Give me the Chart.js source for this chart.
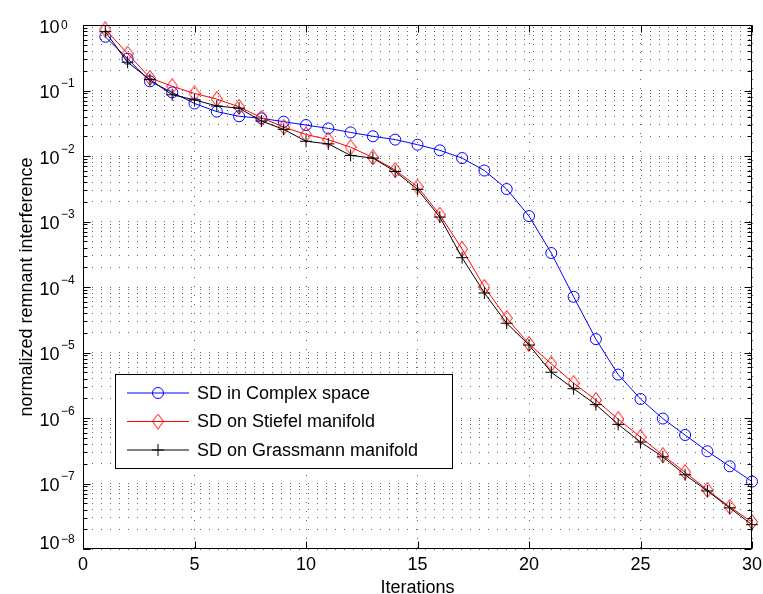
<!DOCTYPE html>
<html lang="en">
<head>
<meta charset="UTF-8">
<title>Normalized remnant interference</title>
<script src="https://cdn.jsdelivr.net/npm/chart.js@4.4.0/dist/chart.umd.min.js"></script>
<style>
    html, body { margin: 0; padding: 0; background: #fff; }
    #wrap { width: 763px; height: 594px; }
</style>
</head>
<body>
<div id="wrap"><canvas id="remnantChart" width="763" height="594"></canvas></div>
<script>
    // values
    const iterations = [1, 2, 3, 4, 5, 6, 7, 8, 9, 10, 11, 12, 13, 14, 15,
                        16, 17, 18, 19, 20, 21, 22, 23, 24, 25, 26, 27, 28, 29, 30];
    const sdComplex = [0.66, 0.306, 0.138, 0.0935, 0.0633, 0.0476, 0.0404, 0.0376, 0.0334, 0.0297,
                       0.0264, 0.0229, 0.020, 0.0178, 0.0149, 0.0122, 0.0093, 0.0060, 0.00313, 0.00121,
                       3.3e-4, 7.1e-5, 1.6e-5, 4.6e-6, 1.95e-6, 9.8e-7, 5.5e-7, 3.1e-7, 1.83e-7, 1.07e-7];
    const sdStiefel = [0.857, 0.366, 0.156, 0.116, 0.090, 0.074, 0.0562, 0.0385, 0.0276, 0.0213,
                       0.0178, 0.0136, 0.0095, 0.0061, 0.0034, 1.27e-3, 3.8e-4, 1.0e-4, 3.35e-5, 1.35e-5,
                       6.7e-6, 3.4e-6, 1.88e-6, 9.6e-7, 5.1e-7, 2.7e-7, 1.49e-7, 7.96e-8, 4.4e-8, 2.58e-8];
    const sdGrassmann = [0.79, 0.27, 0.147, 0.086, 0.072, 0.058, 0.0537, 0.0342, 0.0255, 0.0168,
                         0.0153, 0.0102, 0.0093, 0.0058, 0.0031, 1.17e-3, 2.8e-4, 8.1e-5, 2.8e-5, 1.3e-5,
                         5.0e-6, 2.8e-6, 1.6e-6, 8.0e-7, 4.3e-7, 2.55e-7, 1.36e-7, 7.7e-8, 4.25e-8, 2.35e-8];
    const seriesNames = ['SD in Complex space', 'SD on Stiefel manifold', 'SD on Grassmann manifold'];
    const xTicks = [0, 5, 10, 15, 20, 25, 30];
    const yExponents = [0, -1, -2, -3, -4, -5, -6, -7, -8];

    const FONT = '"Liberation Sans", Arial, Helvetica, sans-serif';
    Chart.defaults.font.family = FONT;
    Chart.defaults.color = '#000';

    // decade + minor values, used for the dotted grid and the inner tick marks
    const yGridValues = [];
    yExponents.forEach(e => {
        for (let m = 1; m <= 9; m++) {
            if (e === 0 && m > 1) break;
            yGridValues.push(m * Math.pow(10, e));
        }
    });

    function pts(ys) {
        return iterations.map((x, i) => ({ x: x, y: ys[i] }));
    }

    // MATLAB style diamond (taller than wide)
    function makeDiamond(w, h, color) {
        const c = document.createElement('canvas');
        c.width = w; c.height = h;
        const g = c.getContext('2d');
        g.strokeStyle = color;
        g.lineWidth = 1;
        g.beginPath();
        g.moveTo(w / 2, 0.5);
        g.lineTo(w - 0.5, h / 2);
        g.lineTo(w / 2, h - 0.5);
        g.lineTo(0.5, h / 2);
        g.closePath();
        g.stroke();
        return c;
    }
    const diamond = makeDiamond(12, 16, '#ff0000');

    // frame, inner ticks, y labels with exponents, legend box
    const matlabAxes = {
        id: 'matlabAxes',
        afterDraw(chart) {
            const ctx = chart.ctx;
            const a = chart.chartArea;
            const xs = chart.scales.x, ys = chart.scales.y;
            const L = Math.round(a.left) + 0.5, R = Math.round(a.right) - 0.5;
            const T = Math.round(a.top) + 0.5, B = Math.round(a.bottom) - 0.5;

            ctx.save();
            ctx.strokeStyle = '#000';
            ctx.lineWidth = 1;
            ctx.strokeRect(L, T, R - L, B - T);

            ctx.beginPath();
            yGridValues.forEach(v => {
                const py = Math.round(ys.getPixelForValue(v)) + 0.5;
                const len = Number.isInteger(Math.log10(v)) ? 7 : 4;
                ctx.moveTo(L, py); ctx.lineTo(L + len, py);
                ctx.moveTo(R, py); ctx.lineTo(R - len, py);
            });
            xTicks.forEach(v => {
                const px = Math.round(xs.getPixelForValue(v)) + 0.5;
                ctx.moveTo(px, B); ctx.lineTo(px, B - 7);
                ctx.moveTo(px, T); ctx.lineTo(px, T + 7);
            });
            ctx.stroke();

            // y tick labels 10^e
            ctx.fillStyle = '#000';
            ctx.textBaseline = 'alphabetic';
            yExponents.forEach(e => {
                const py = ys.getPixelForValue(Math.pow(10, e));
                const tenBase = Math.min(py + 7.5, a.bottom + 0.2);
                const expBase = Math.max(Math.min(py - 3.5, tenBase - 6), 29);
                ctx.font = '18px ' + FONT;
                ctx.textAlign = 'right';
                ctx.fillText('10', 59.5, tenBase);
                ctx.font = '12px ' + FONT;
                ctx.textAlign = 'left';
                ctx.fillText(e === 0 ? '0' : '\u2212' + (-e), 61, expBase);
            });

            // legend
            const box = { x: 115, y: 374, w: 337, h: 94 };
            ctx.fillStyle = '#fff';
            ctx.fillRect(box.x, box.y, box.w, box.h);
            ctx.strokeStyle = '#000';
            ctx.strokeRect(box.x + 0.5, box.y + 0.5, box.w, box.h);
            chart.data.datasets.forEach((ds, i) => {
                const ry = box.y + 19 + i * 28.5;
                ctx.strokeStyle = ds.borderColor;
                ctx.lineWidth = 1;
                ctx.beginPath();
                ctx.moveTo(127, ry); ctx.lineTo(189, ry);
                ctx.stroke();
                ctx.fillStyle = 'rgba(0,0,0,0)';
                Chart.helpers.drawPoint(ctx, {
                    pointStyle: ds.pointStyle, radius: ds.pointRadius,
                    rotation: 0, borderWidth: 1
                }, 158, ry);
                ctx.fillStyle = '#000';
                ctx.font = '18px ' + FONT;
                ctx.textAlign = 'left';
                ctx.textBaseline = 'middle';
                ctx.fillText(ds.label, 197, ry + 1);
            });
            ctx.restore();
        }
    };

    const gridColor = 'rgba(0,0,0,0.6)';

    function noPadding(s) {
        s.paddingLeft = 0; s.paddingRight = 0;
        s.paddingTop = 0; s.paddingBottom = 0;
    }

    new Chart(document.getElementById('remnantChart'), {
        type: 'line',
        data: {
            datasets: [{
                label: seriesNames[0],
                data: pts(sdComplex),
                borderColor: '#0000ff',
                borderWidth: 1,
                pointStyle: 'circle',
                pointRadius: 5.5,
                pointBorderColor: '#0000ff',
                pointBackgroundColor: 'rgba(0,0,0,0)',
                pointBorderWidth: 1,
                tension: 0,
                clip: false,
                order: 3
            }, {
                label: seriesNames[1],
                data: pts(sdStiefel),
                borderColor: '#ff0000',
                borderWidth: 1,
                pointStyle: diamond,
                pointRadius: 7,
                pointBorderColor: '#ff0000',
                pointBackgroundColor: 'rgba(0,0,0,0)',
                tension: 0,
                clip: false,
                order: 2
            }, {
                label: seriesNames[2],
                data: pts(sdGrassmann),
                borderColor: '#000000',
                borderWidth: 1,
                pointStyle: 'cross',
                pointRadius: 6,
                pointBorderColor: '#000000',
                pointBorderWidth: 1,
                tension: 0,
                clip: false,
                order: 1
            }]
        },
        options: {
            responsive: false,
            animation: false,
            devicePixelRatio: 1,
            layout: { padding: { top: 25, right: 11, left: 0, bottom: 0 } },
            plugins: {
                legend: { display: false },
                tooltip: { enabled: false }
            },
            scales: {
                x: {
                    type: 'linear',
                    min: 0,
                    max: 30,
                    ticks: { stepSize: 5, color: '#000', font: { size: 18 }, padding: 5 },
                    grid: { color: gridColor, lineWidth: 1, drawTicks: false },
                    border: { display: false, dash: [1, 8] },
                    title: {
                        display: true, text: 'Iterations', color: '#000',
                        font: { size: 18 }, padding: { top: 0, bottom: -5 }
                    },
                    afterFit: s => { s.height = 45; noPadding(s); }
                },
                y: {
                    type: 'logarithmic',
                    min: 1e-8,
                    max: 1,
                    afterBuildTicks: s => { s.ticks = yGridValues.map(v => ({ value: v })); },
                    ticks: { display: false },
                    grid: { color: gridColor, lineWidth: 1, drawTicks: false },
                    border: { display: false, dash: [1, 8] },
                    title: {
                        display: true, text: 'normalized remnant interference', color: '#000',
                        font: { size: 18 }, padding: { top: 16, bottom: 0 }
                    },
                    afterFit: s => { s.width = 83; noPadding(s); }
                }
            }
        },
        plugins: [matlabAxes]
    });
</script>
</body>
</html>
